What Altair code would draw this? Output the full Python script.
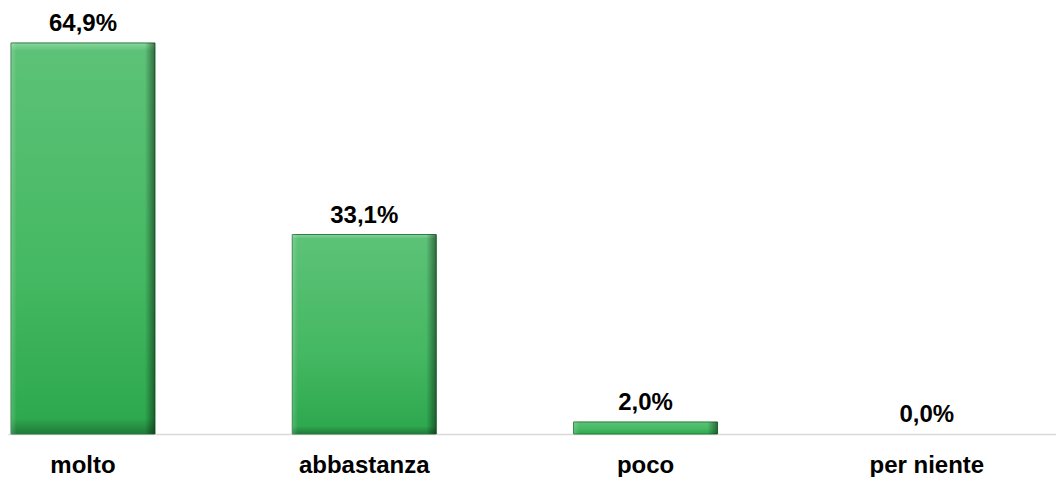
import altair as alt
import pandas as pd

categories = ["molto", "abbastanza", "poco", "per niente"]
values = [64.9, 33.1, 2.0, 0.0]

df = pd.DataFrame({"cat": categories, "val": values})
df["label"] = [f"{v:.1f}".replace(".", ",") + "%" for v in values]

FONT = "Liberation Sans"

x = alt.X(
    "cat:N",
    sort=categories,
    scale=alt.Scale(paddingInner=0.488, paddingOuter=0.107, align=0.05, round=False),
    axis=alt.Axis(
        title=None,
        labelAngle=0,
        labelFont=FONT,
        labelFontSize=24,
        labelFontWeight="bold",
        labelColor="#000000",
        labelPadding=19,
        ticks=False,
        domainColor="#d9d9d9",
        domainWidth=1.5,
    ),
)
y = alt.Y("val:Q", scale=alt.Scale(domain=[0, 70.7], nice=False), axis=None)

base = alt.Chart(df)

face = base.mark_bar(
    stroke="#2a7a3f",
    strokeWidth=1,
    color=alt.Gradient(
        gradient="linear",
        x1=0, y1=0, x2=0, y2=1,
        stops=[
            alt.GradientStop(color="#8ad79f", offset=0),
            alt.GradientStop(color="#5cc277", offset=0.02),
            alt.GradientStop(color="#44b862", offset=0.6),
            alt.GradientStop(color="#2ea94f", offset=0.96),
            alt.GradientStop(color="#1f7a38", offset=1),
        ],
    ),
).encode(
    x=x,
    y=y,
    strokeOpacity=alt.condition("datum.val > 0", alt.value(1), alt.value(0)),
)

shade = base.mark_bar(
    color=alt.Gradient(
        gradient="linear",
        x1=0, y1=0, x2=1, y2=0,
        stops=[
            alt.GradientStop(color="rgba(255,255,255,0.18)", offset=0),
            alt.GradientStop(color="rgba(255,255,255,0)", offset=0.04),
            alt.GradientStop(color="rgba(0,0,0,0)", offset=0.93),
            alt.GradientStop(color="rgba(0,0,0,0.45)", offset=1),
        ],
    ),
).encode(x=x, y=y)

text = base.mark_text(
    font=FONT,
    fontSize=24,
    fontWeight="bold",
    color="#000000",
    baseline="alphabetic",
    dy=-12,
).encode(x=x, y=y, text="label:N")

chart = (
    alt.layer(face, shade, text)
    .properties(width=1048, height=426, padding={"left": 0, "top": 0, "right": 0, "bottom": 0})
    .configure_view(stroke=None)
)

chart.save("out.html", embed_options={"renderer": "svg", "actions": False})
